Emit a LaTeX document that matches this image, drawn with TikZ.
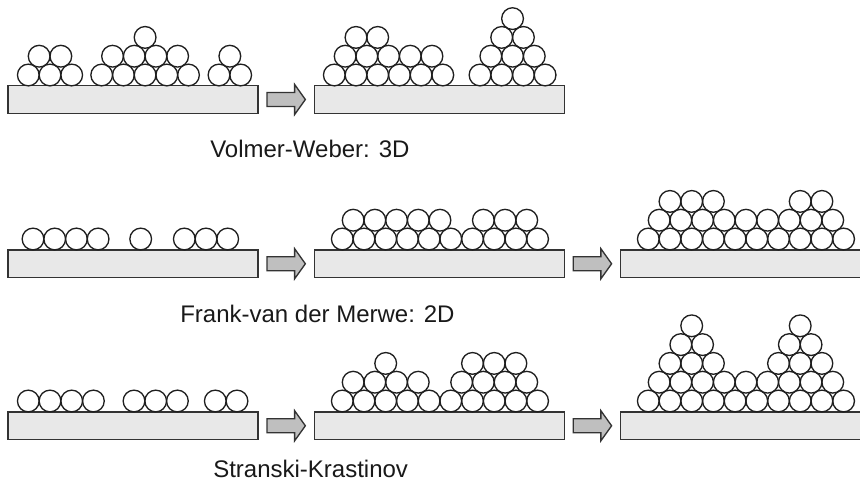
\documentclass[tikz,border=0pt]{standalone}
\usepackage{fontspec}
\setmainfont{Liberation Sans}
\usetikzlibrary{calc}
% one drawing unit = one pixel of an 860 x 487 canvas, y pointing down
\tikzset{
  atom/.style={draw=black!88, line width=1pt},
  substrate/.style={rectangle, draw=black!80, fill=black!9, line width=1pt,
    inner sep=0pt, minimum width=187.5pt, minimum height=20.6pt},
  flow/.style={draw=black!80, fill=black!25, line width=1pt, line join=miter},
  caption/.style={anchor=base west, inner sep=0pt,
    font=\fontsize{18}{21}\selectfont, text=black!90}
}
% \atoms{x of first column}{y of bottom row}{layer}{column offsets}
\newcommand\atoms[4]{%
  \foreach \k in {#4}{\draw[atom] ({#1+\k*21.7},{#2-#3*18.8}) circle[radius=8.15pt];}}
% block arrow centred on a coordinate
\newcommand\growth[1]{%
  \draw[flow] (#1) ++(-19.2,-7) -- ++(27.6,0) -- ++(0,-8) -- ++(10.7,15)
    -- ++(-10.7,15) -- ++(0,-8) -- ++(-27.6,0) -- cycle;}
\begin{document}
\begin{tikzpicture}[x=0.75pt,y=-0.75pt]
\useasboundingbox (0,0) rectangle (860,487);

% ---------- Volmer-Weber ----------
\node[substrate] (s11) at (133,99.5) {};
\node[substrate] (s12) at (439.5,99.5) {};
\coordinate (a11) at ($(s11.east)!0.5!(s12.west)$);
\growth{a11}
\atoms{28.3}{75}{0}{0,1,2}
\atoms{28.3}{75}{1}{0.5,1.5}
\atoms{101.7}{75}{0}{0,1,2,3,4}
\atoms{101.7}{75}{1}{0.5,1.5,2.5,3.5}
\atoms{101.7}{75}{2}{2}
\atoms{219}{75}{0}{0,1}
\atoms{219}{75}{1}{0.5}
\atoms{334.3}{75}{0}{0,1,2,3,4,5}
\atoms{334.3}{75}{1}{0.5,1.5,2.5,3.5,4.5}
\atoms{334.3}{75}{2}{1,2}
\atoms{480}{75}{0}{0,1,2,3}
\atoms{480}{75}{1}{0.5,1.5,2.5}
\atoms{480}{75}{2}{1,2}
\atoms{480}{75}{3}{1.5}
\node[caption] (t1) at (210,157) {Volmer-Weber: 3D};

% ---------- Frank-van der Merwe ----------
\node[substrate] (s21) at (133,263.75) {};
\node[substrate] (s22) at (439.5,263.75) {};
\node[substrate] (s23) at (745.5,263.75) {};
\coordinate (a21) at ($(s21.east)!0.5!(s22.west)$);
\coordinate (a22) at ($(s22.east)!0.5!(s23.west)$);
\growth{a21}
\growth{a22}
\atoms{33}{239}{0}{0,1,2,3}
\atoms{140.7}{239}{0}{0}
\atoms{184.3}{239}{0}{0,1,2}
\atoms{342.3}{239}{0}{0,1,2,3,4,5,6,7,8,9}
\atoms{342.3}{239}{1}{0.5,1.5,2.5,3.5,4.5,6.5,7.5,8.5}
\atoms{648.3}{239}{0}{0,1,2,3,4,5,6,7,8,9}
\atoms{648.3}{239}{1}{0.5,1.5,2.5,3.5,4.5,5.5,6.5,7.5,8.5}
\atoms{648.3}{239}{2}{1,2,3,7,8}
\node[caption] (t2) at (180,322) {Frank-van der Merwe: 2D};

% ---------- Stranski-Krastinov ----------
\node[substrate] (s31) at (133,425.75) {};
\node[substrate] (s32) at (439.5,425.75) {};
\node[substrate] (s33) at (745.5,425.75) {};
\coordinate (a31) at ($(s31.east)!0.5!(s32.west)$);
\coordinate (a32) at ($(s32.east)!0.5!(s33.west)$);
\growth{a31}
\growth{a32}
\atoms{28.3}{401}{0}{0,1,2,3}
\atoms{134}{401}{0}{0,1,2}
\atoms{215.3}{401}{0}{0,1}
\atoms{342.3}{401}{0}{0,1,2,3,4,5,6,7,8,9}
\atoms{342.3}{401}{1}{0.5,1.5,2.5,3.5,5.5,6.5,7.5,8.5}
\atoms{342.3}{401}{2}{2,6,7,8}
\atoms{648.3}{401}{0}{0,1,2,3,4,5,6,7,8,9}
\atoms{648.3}{401}{1}{0.5,1.5,2.5,3.5,4.5,5.5,6.5,7.5,8.5}
\atoms{648.3}{401}{2}{1,2,3,6,7,8}
\atoms{648.3}{401}{3}{1.5,2.5,6.5,7.5}
\atoms{648.3}{401}{4}{2,7}
\node[caption] (t3) at (213,477) {Stranski-Krastinov};
\end{tikzpicture}
\end{document}
